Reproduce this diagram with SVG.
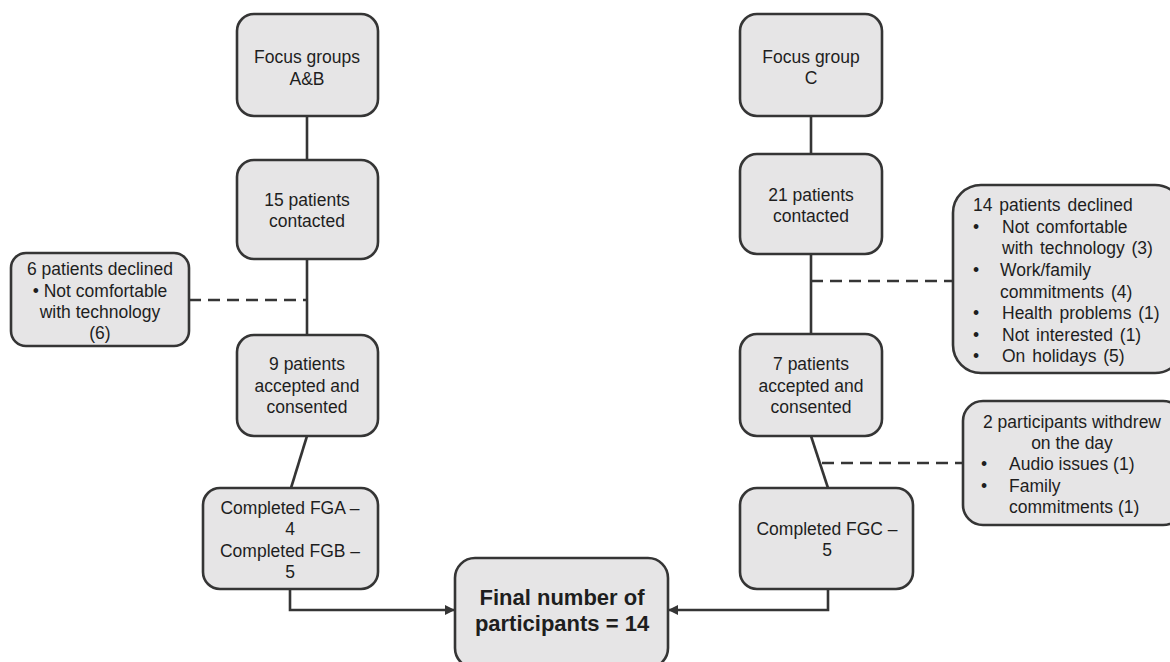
<svg xmlns="http://www.w3.org/2000/svg" width="1170" height="662" viewBox="0 0 1170 662">
  <style>
    .box { fill: #e6e5e6; stroke: #353535; stroke-width: 2.6; }
    .line { fill: none; stroke: #353535; stroke-width: 2.6; }
    .dash { fill: none; stroke: #353535; stroke-width: 2.6; stroke-dasharray: 12 7; }
    text { font-family: "Liberation Sans", Arial, sans-serif; font-size: 17.5px; fill: #1e1e1e; }
    .c { text-anchor: middle; }
    .wide { word-spacing: 2px; }
    .bold { font-weight: bold; font-size: 22px; }
  </style>
  <defs>
    <marker id="arrow" viewBox="0 0 10 10" refX="10" refY="5" markerWidth="4" markerHeight="4" orient="auto" markerUnits="strokeWidth">
      <path d="M0,0 L10,5 L0,10 z" fill="#353535"/>
    </marker>
  </defs>

  <!-- connectors -->
  <g id="connectors">
    <line class="line" x1="307" y1="116" x2="307" y2="160"/>
    <line class="line" x1="307" y1="259" x2="307" y2="335"/>
    <line class="dash" x1="189" y1="300" x2="307" y2="300"/>
    <line class="line" x1="307" y1="436" x2="291" y2="488"/>
    <polyline class="line" points="290,589 290,610 455,610" marker-end="url(#arrow)"/>

    <line class="line" x1="811" y1="116" x2="811" y2="154"/>
    <line class="line" x1="811" y1="254" x2="811" y2="334"/>
    <line class="dash" x1="811" y1="281" x2="953" y2="281"/>
    <line class="line" x1="811" y1="436" x2="828" y2="488"/>
    <line class="dash" x1="822" y1="463" x2="963" y2="463"/>
    <polyline class="line" points="828,589 828,610 668,610" marker-end="url(#arrow)"/>
  </g>

  <!-- left branch -->
  <g id="focus-ab">
    <rect class="box" x="237" y="14" width="141" height="102" rx="17"/>
    <text class="c" x="307" y="63">Focus groups</text>
    <text class="c" x="307" y="85">A&amp;B</text>
  </g>
  <g id="contacted-15">
    <rect class="box" x="237" y="160" width="141" height="99" rx="17"/>
    <text class="c" x="307" y="206">15 patients</text>
    <text class="c" x="307" y="227">contacted</text>
  </g>
  <g id="declined-6">
    <rect class="box" x="11" y="253" width="178" height="93" rx="15"/>
    <text class="c" x="100" y="275">6 patients declined</text>
    <text class="c" x="100" y="297">• Not comfortable</text>
    <text class="c" x="100" y="318">with technology</text>
    <text class="c" x="100" y="339">(6)</text>
  </g>
  <g id="accepted-9">
    <rect class="box" x="237" y="335" width="141" height="101" rx="17"/>
    <text class="c" x="307" y="370">9 patients</text>
    <text class="c" x="307" y="392">accepted and</text>
    <text class="c" x="307" y="413">consented</text>
  </g>
  <g id="completed-ab">
    <rect class="box" x="203" y="488" width="175" height="101" rx="17"/>
    <text class="c" x="290" y="514">Completed FGA –</text>
    <text class="c" x="290" y="535">4</text>
    <text class="c" x="290" y="557">Completed FGB –</text>
    <text class="c" x="290" y="578">5</text>
  </g>

  <!-- final -->
  <g id="final">
    <rect class="box" x="455" y="558" width="213" height="110" rx="20"/>
    <text class="c bold" x="562" y="605">Final number of</text>
    <text class="c bold" x="562" y="631">participants = 14</text>
  </g>

  <!-- right branch -->
  <g id="focus-c">
    <rect class="box" x="740" y="14" width="142" height="102" rx="17"/>
    <text class="c" x="811" y="63">Focus group</text>
    <text class="c" x="811" y="84">C</text>
  </g>
  <g id="contacted-21">
    <rect class="box" x="740" y="154" width="142" height="100" rx="17"/>
    <text class="c" x="811" y="201">21 patients</text>
    <text class="c" x="811" y="222">contacted</text>
  </g>
  <g id="declined-14" class="wide">
    <rect class="box" x="953" y="185" width="230" height="188" rx="28"/>
    <text x="973" y="211">14 patients declined</text>
    <text x="973" y="233">•</text><text x="1002" y="233">Not comfortable</text>
    <text x="1002" y="254">with technology (3)</text>
    <text x="973" y="276">•</text><text x="1000" y="276">Work/family</text>
    <text x="1000" y="298">commitments (4)</text>
    <text x="973" y="319">•</text><text x="1002" y="319">Health problems (1)</text>
    <text x="973" y="341">•</text><text x="1002" y="341">Not interested (1)</text>
    <text x="973" y="362">•</text><text x="1002" y="362">On holidays (5)</text>
  </g>
  <g id="accepted-7">
    <rect class="box" x="740" y="334" width="142" height="102" rx="17"/>
    <text class="c" x="811" y="370">7 patients</text>
    <text class="c" x="811" y="392">accepted and</text>
    <text class="c" x="811" y="413">consented</text>
  </g>
  <g id="withdrew-2">
    <rect class="box" x="963" y="401" width="220" height="124" rx="20"/>
    <text class="c" x="1072" y="428">2 participants withdrew</text>
    <text class="c" x="1072" y="449">on the day</text>
    <text x="981" y="470">•</text><text x="1009" y="470">Audio issues (1)</text>
    <text x="981" y="492">•</text><text x="1009" y="492">Family</text>
    <text x="1009" y="513">commitments (1)</text>
  </g>
  <g id="completed-c">
    <rect class="box" x="740" y="488" width="173" height="101" rx="17"/>
    <text class="c" x="827" y="535">Completed FGC –</text>
    <text class="c" x="827" y="556">5</text>
  </g>
</svg>
